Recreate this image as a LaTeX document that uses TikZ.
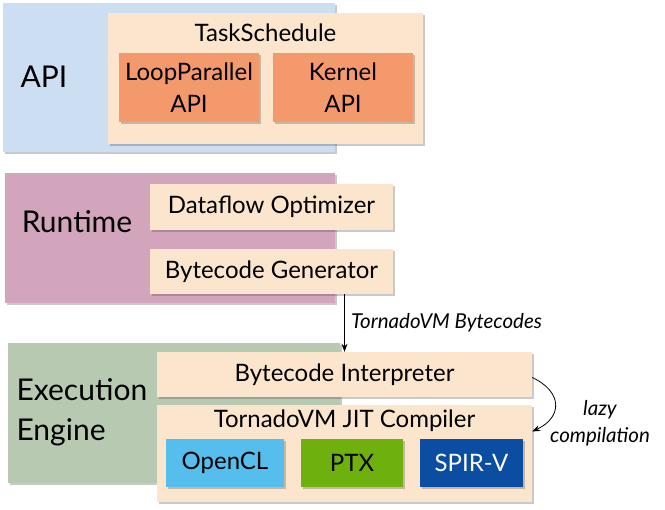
\documentclass[tikz,border=0pt]{standalone}
\usepackage{fontspec}
\setmainfont{Lato}
\usetikzlibrary{positioning, arrows.meta, shadows, calc}

\definecolor{apiblue}{HTML}{CCDEF1}
\definecolor{peach}{HTML}{FCE5CD}
\definecolor{apiorange}{HTML}{F4996B}
\definecolor{rtmauve}{HTML}{D3A5BD}
\definecolor{exsage}{HTML}{B8C9B2}
\definecolor{oclblue}{HTML}{56BEEC}
\definecolor{ptxgreen}{HTML}{6EB00E}
\definecolor{spvblue}{HTML}{0B4DA2}

\begin{document}
\begin{tikzpicture}[>={Stealth[length=8pt, width=6pt]}, x=1pt, y=-1pt,
    box/.style={rectangle, inner sep=0pt,
      drop shadow={shadow xshift=1.5pt, shadow yshift=-2pt, opacity=0.3, fill=black!70}},
    layer/.style={box},
    layertext/.style={font=\fontsize{30}{40}\selectfont, align=left},
    part/.style={box, fill=peach, font=\fontsize{24}{32}\selectfont, align=center},
    backend/.style={box, minimum height=48pt, font=\fontsize{24}{28}\selectfont},
    note/.style={font=\fontsize{20.5}{27}\selectfont\itshape, align=center}]
  \useasboundingbox (0,0) rectangle (665,510);
  % API layer
  \node[layer, fill=apiblue, minimum width=332pt, minimum height=149pt] (api) at (169,77.5) {};
  \node[layertext] (apiT) at (44,77) {API};
  \node[part, minimum width=315pt, minimum height=131pt] (tsch) at (265.5,78.5) {};
  \node[font=\fontsize{24}{28}\selectfont] (tschT) at (265.5,33) {TaskSchedule};
  \node[part, fill=apiorange, minimum width=140pt, minimum height=69pt] (loop) at (189,87.5) {LoopParallel\\API};
  \node[part, fill=apiorange, minimum width=140pt, minimum height=69pt] (kern) at (343,87.5) {Kernel\\API};
  % runtime layer
  \node[layer, fill=rtmauve, minimum width=330pt, minimum height=130pt] (rt) at (170,238) {};
  \node[layertext] (rtT) at (77,222) {Runtime};
  \node[part, minimum width=243pt, minimum height=46pt] (dfo) at (271.5,207) {Dataflow Optimizer};
  \node[part, minimum width=243pt, minimum height=45pt] (bcg) at (271.5,271.5) {Bytecode Generator};
  % execution engine layer
  \node[layer, fill=exsage, minimum width=332pt, minimum height=140pt] (ex) at (174,413) {};
  \node[layertext, anchor=west] (exT) at (13,412) {Execution\\Engine};
  \node[part, minimum width=375pt, minimum height=45pt] (bci) at (344.5,374.5) {Bytecode Interpreter};
  \node[part, minimum width=375pt, minimum height=97pt] (jit) at (344.5,453.5) {};
  \node[font=\fontsize{24}{28}\selectfont] (jitT) at (344.5,421) {TornadoVM JIT Compiler};
  \foreach \n/\c/\x/\w/\tc/\t in {ocl/oclblue/225/118/black/OpenCL, ptx/ptxgreen/352/102/black/PTX, spv/spvblue/471.5/103/white/SPIR-V}{
    \node[backend, fill=\c, text=\tc, minimum width=\w pt] (\n) at (\x,463) {\t};
  }
  % arrows
  \draw[->, thick] (bci.north |- bcg.south) -- (bci.north)
    node[note, pos=0.5, right, xshift=3pt] {TornadoVM Bytecodes};
  \draw[->, thick] ([yshift=-3pt]bci.east) to[out=-25, in=25, looseness=1.6] ([yshift=22pt]jit.east);
  \node[note] (lazy) at (600,423) {lazy\\compilation};
\end{tikzpicture}
\end{document}
